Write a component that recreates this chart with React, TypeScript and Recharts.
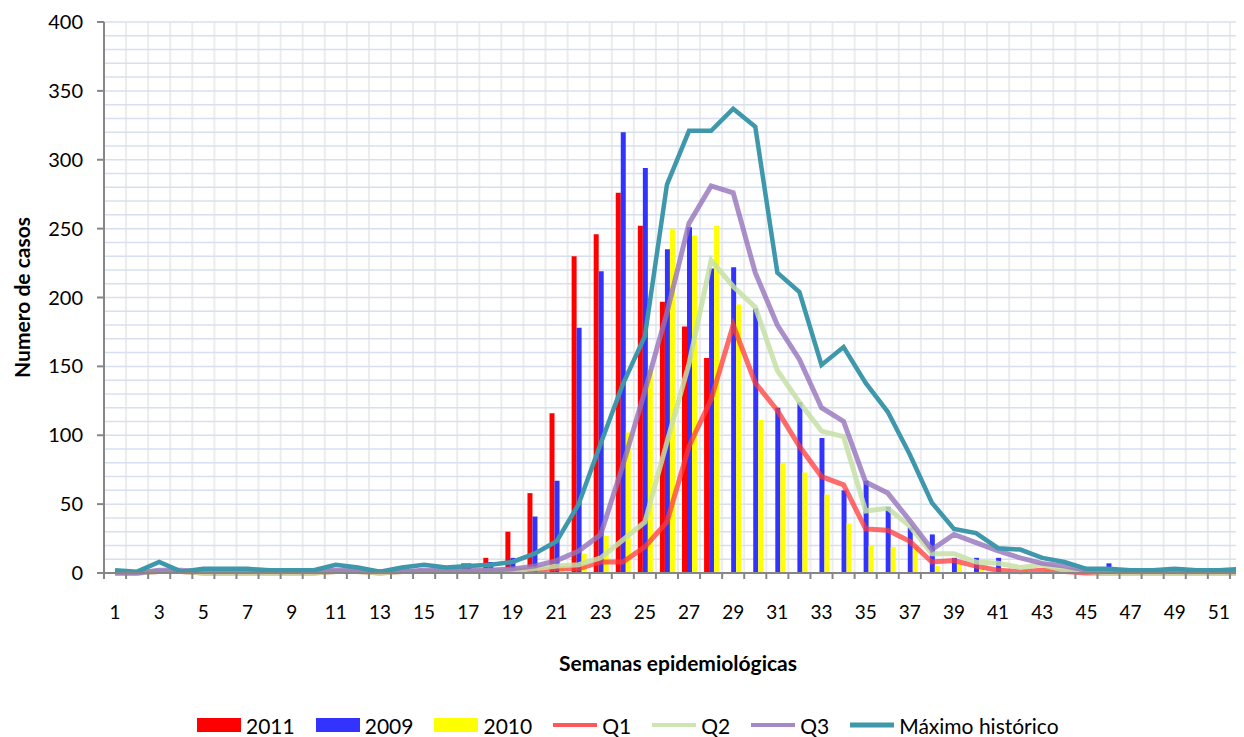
import React from 'react';
import { ComposedChart, Bar, Line, XAxis, YAxis, CartesianGrid, Legend } from 'recharts';

const weeks = Array.from({ length: 52 }, (_, i) => i + 1);

const cases2011 = [
  0, 0, 0, 1, 0, 0, 0, 0, 0, 0,
  0, 0, 2, 0, 3, 0, 7, 11, 30, 58,
  116, 230, 246, 276, 252, 197, 179, 156, null, null,
  null, null, null, null, null, null, null, null, null, null,
  null, null, null, null, null, null, null, null, null, null,
  null, null,
];
const cases2009 = [
  0, 0, 0, 0, 0, 0, 0, 0, 0, 0,
  0, 0, 0, 0, 0, 0, 7, 8, 11, 41,
  67, 178, 219, 320, 294, 235, 251, 221, 222, 192,
  120, 124, 98, 60, 67, 48, 33, 28, 11, 11,
  11, 0, 0, 0, 0, 7, 0, 0, 0, 0,
  0, 0,
];
const cases2010 = [
  0, 0, 0, 0, 0, 0, 0, 0, 0, 0,
  0, 0, 0, 0, 0, 0, 0, 0, 1, 2,
  4, 14, 27, 102, 148, 250, 245, 252, 195, 111,
  80, 73, 57, 36, 20, 19, 19, 5, 7, 3,
  0, 2, 2, 2, 0, 0, 0, 0, 0, 0,
  0, 2,
];
const q1 = [
  0, 0, 1, 1, 0, 0, 0, 0, 0, 0,
  1, 1, 0, 1, 1, 1, 1, 1, 1, 2,
  3, 3, 8, 8, 19, 37, 92, 126, 180, 138,
  118, 92, 70, 64, 32, 31, 23, 8, 9, 5,
  2, 1, 2, 1, 0, 0, 0, 0, 0, 0,
  0, 0,
];
const q2 = [
  0, 0, 1, 1, 0, 0, 0, 0, 0, 0,
  1, 1, 0, 1, 1, 1, 1, 2, 2, 3,
  5, 6, 11, 24, 37, 95, 152, 227, 208, 193,
  147, 124, 103, 99, 45, 47, 34, 14, 14, 8,
  7, 4, 6, 2, 1, 0, 0, 0, 0, 0,
  0, 0,
];
const q3 = [
  0, 0, 2, 2, 1, 1, 1, 1, 1, 1,
  2, 2, 1, 1, 2, 2, 2, 2, 3, 5,
  9, 16, 28, 78, 132, 189, 254, 281, 276, 218,
  180, 155, 120, 110, 66, 58, 38, 17, 28, 22,
  16, 11, 7, 5, 2, 1, 1, 1, 1, 1,
  1, 1,
];
const historicalMax = [
  2, 1, 8, 1, 3, 3, 3, 2, 2, 2,
  6, 4, 1, 4, 6, 4, 5, 6, 8, 14,
  23, 50, 94, 137, 172, 282, 321, 321, 337, 324,
  218, 204, 151, 164, 138, 117, 86, 51, 32, 29,
  18, 17, 11, 8, 3, 3, 2, 2, 3, 2,
  2, 3,
];

const yTicks = [0, 50, 100, 150, 200, 250, 300, 350, 400];
const gridValues = Array.from({ length: 40 }, (_, i) => (i + 1) * 10);

const data = weeks.map((w, i) => ({
  week: w,
  y2011: cases2011[i],
  y2009: cases2009[i],
  y2010: cases2010[i],
  q1: q1[i],
  q2: q2[i],
  q3: q3[i],
  max: historicalMax[i],
}));

const FONT = 'Lato, "Open Sans", sans-serif';
const CHART_W = 1250;
const CHART_H = 729;
const MARGIN = { top: 14, right: 6, left: 0, bottom: 0 };
const Y_AXIS_W = 96;
const BAND = (CHART_W - MARGIN.left - MARGIN.right - Y_AXIS_W) / weeks.length;
const TEAL = '#3e97aa';
const Q1_COLOR = '#ff3b3b';
const Q2_COLOR = '#c6e1a6';
const Q3_COLOR = '#9573ba';

const XTick = (props: any) => {
  const { x, y, payload, index } = props;
  return (
    <g>
      <line x1={x - BAND / 2} x2={x - BAND / 2} y1={y} y2={y + 6} stroke="#868686" strokeWidth={2} />
      {index % 2 === 0 && (
        <text x={x} y={y + 33} dy="0.71em" textAnchor="middle" fill="#000" fontSize={19} fontFamily={FONT}>
          {payload.value}
        </text>
      )}
    </g>
  );
};

const legendItems = [
  { name: '2011', kind: 'bar', color: '#ff0000' },
  { name: '2009', kind: 'bar', color: '#3333ff' },
  { name: '2010', kind: 'bar', color: '#ffff00' },
  { name: 'Q1', kind: 'line', color: Q1_COLOR },
  { name: 'Q2', kind: 'line', color: Q2_COLOR },
  { name: 'Q3', kind: 'line', color: Q3_COLOR },
  { name: 'Máximo histórico', kind: 'max', color: TEAL },
];

const LegendContent = () => (
  <div style={{ display: 'flex', alignItems: 'center', height: 24, paddingLeft: 189, fontFamily: FONT, fontSize: 21, color: '#000' }}>
    {legendItems.map((it) => (
      <div key={it.name} style={{ display: 'flex', alignItems: 'center', marginRight: 21 }}>
        <svg width={44} height={14} style={{ marginRight: 5 }}>
          {it.kind === 'bar' ? (
            <rect x={0} y={0} width={44} height={14} fill={it.color} />
          ) : (
            <line x1={0} x2={44} y1={7} y2={7} stroke={it.color} strokeOpacity={it.kind === 'max' ? 1 : 0.85} strokeWidth={it.kind === 'max' ? 5 : 4} />
          )}
        </svg>
        <span>{it.name}</span>
      </div>
    ))}
  </div>
);

export default function App() {
  return (
    <div style={{ width: 1236, height: CHART_H, overflow: 'hidden', position: 'relative' }}>
      <ComposedChart width={CHART_W} height={CHART_H} data={data} margin={MARGIN} barGap={0}>
        <CartesianGrid
          stroke="#ececec"
          strokeWidth={2}
          horizontal={false}
          verticalCoordinatesGenerator={({ offset }: any) =>
            weeks.map((_, i) => offset.left + (i + 1) * (offset.width / weeks.length))
          }
        />
        <CartesianGrid
          stroke="#d6e0f0"
          strokeWidth={1.5}
          vertical={false}
          horizontalCoordinatesGenerator={({ offset }: any) =>
            gridValues.map((v) => offset.top + offset.height * (1 - v / 400))
          }
        />
        <XAxis
          dataKey="week"
          interval={0}
          tickLine={false}
          tickSize={0}
          tickMargin={0}
          height={140}
          axisLine={{ stroke: '#868686', strokeWidth: 2 }}
          tick={<XTick />}
          label={{
            content: ({ viewBox }: any) => (
              <text
                x={viewBox.x + viewBox.width / 2}
                y={viewBox.y + 89}
                textAnchor="middle"
                dominantBaseline="central"
                fontFamily={FONT}
                fontSize={21}
                fontWeight="bold"
                fill="#000"
              >
                Semanas epidemiológicas
              </text>
            ),
          }}
        />
        <YAxis
          width={Y_AXIS_W}
          domain={[0, 400]}
          ticks={yTicks}
          interval={0}
          tickSize={7}
          tickMargin={14}
          axisLine={{ stroke: '#868686', strokeWidth: 2 }}
          tickLine={{ stroke: '#868686', strokeWidth: 2 }}
          tick={{ fill: '#000', fontSize: 20, fontFamily: FONT }}
          label={{
            content: ({ viewBox }: any) => {
              const cx = 13;
              const cy = viewBox.y + viewBox.height / 2;
              return (
                <text
                  x={cx}
                  y={cy}
                  transform={`rotate(-90, ${cx}, ${cy})`}
                  textAnchor="middle"
                  dominantBaseline="central"
                  fontFamily={FONT}
                  fontSize={21}
                  fontWeight="bold"
                  fill="#000"
                >
                  Numero de casos
                </text>
              );
            },
          }}
        />
        <Bar dataKey="y2011" name="2011" fill="#ff0000" barSize={5} isAnimationActive={false} />
        <Bar dataKey="y2009" name="2009" fill="#3333ff" barSize={5} isAnimationActive={false} />
        <Bar dataKey="y2010" name="2010" fill="#ffff00" barSize={5} isAnimationActive={false} />
        <Line type="linear" dataKey="q1" name="Q1" stroke={Q1_COLOR} strokeOpacity={0.75} strokeWidth={5} dot={false} isAnimationActive={false} />
        <Line type="linear" dataKey="q2" name="Q2" stroke={Q2_COLOR} strokeOpacity={0.85} strokeWidth={5} dot={false} isAnimationActive={false} />
        <Line type="linear" dataKey="q3" name="Q3" stroke={Q3_COLOR} strokeOpacity={0.8} strokeWidth={5} dot={false} isAnimationActive={false} />
        <Line type="linear" dataKey="max" name="Máximo histórico" stroke={TEAL} strokeWidth={4.5} dot={false} isAnimationActive={false} />
        <Legend verticalAlign="bottom" content={() => <LegendContent />} wrapperStyle={{ left: 0, bottom: 0, width: 1236 }} />
      </ComposedChart>
    </div>
  );
}
